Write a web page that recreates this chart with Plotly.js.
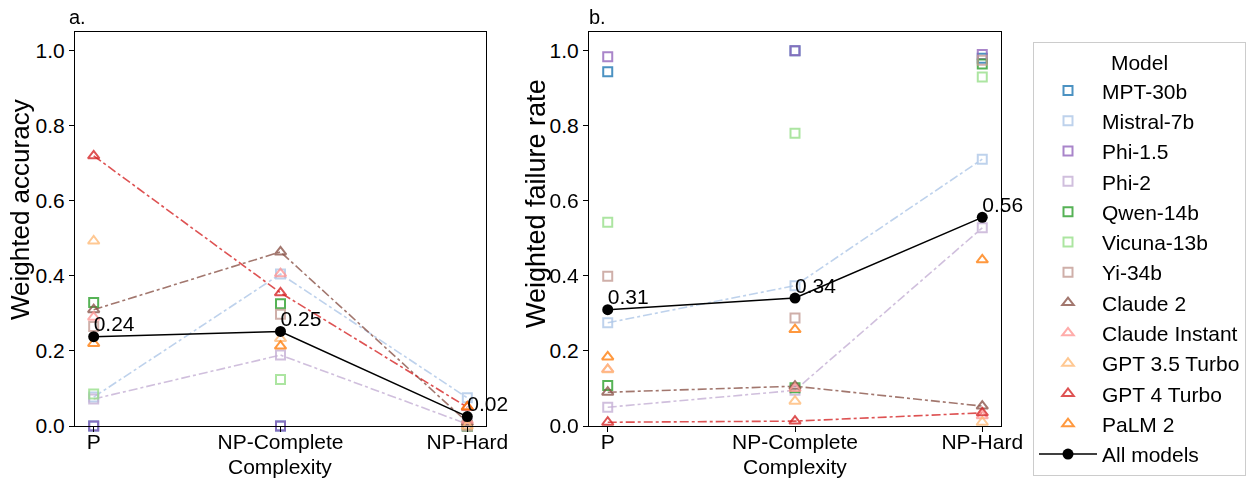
<!DOCTYPE html>
<html>
<head>
<meta charset="utf-8">
<script src="https://cdn.plot.ly/plotly-3.0.1.min.js"></script>
<style>html,body{margin:0;padding:0;background:#fff;}#chart{width:1248px;height:480px;}</style>
</head>
<body>
<div id="chart"></div>
<script>
// Complexity classes (x categories)
const categories = ['P', 'NP-Complete', 'NP-Hard'];

// Model names, colours and marker groups
const models = ['MPT-30b', 'Mistral-7b', 'Phi-1.5', 'Phi-2', 'Qwen-14b', 'Vicuna-13b', 'Yi-34b',
                'Claude 2', 'Claude Instant', 'GPT 3.5 Turbo', 'GPT 4 Turbo', 'PaLM 2'];
const colors = ['#1f77b4', '#aec7e8', '#9467bd', '#c5b0d5', '#2ca02c', '#98df8a', '#c49c94',
                '#8c564b', '#ff9896', '#ffbb78', '#d62728', '#ff7f0e'];
const openModels = ['MPT-30b', 'Mistral-7b', 'Phi-1.5', 'Phi-2', 'Qwen-14b', 'Vicuna-13b', 'Yi-34b'];
const linedModels = ['Mistral-7b', 'Phi-2', 'Claude 2', 'GPT 4 Turbo'];

// Panel a: weighted accuracy per model (P, NP-Complete, NP-Hard)
const accMPT30b       = [0.000, 0.000, 0.000];
const accMistral7b    = [0.077, 0.405, 0.075];
const accPhi15        = [0.000, 0.000, 0.000];
const accPhi2         = [0.072, 0.189, 0.005];
const accQwen14b      = [0.329, 0.326, 0.000];
const accVicuna13b    = [0.085, 0.124, 0.000];
const accYi34b        = [0.265, 0.298, 0.000];
const accClaude2      = [0.310, 0.464, 0.010];
const accClaudeInst   = [0.290, 0.406, 0.015];
const accGPT35        = [0.493, 0.233, 0.000];
const accGPT4         = [0.720, 0.355, 0.050];
const accPaLM2        = [0.220, 0.213, 0.051];
const accAll          = [0.238, 0.252, 0.025];
const accAllLabels    = ['0.24', '0.25', '0.02'];

// Panel b: weighted failure rate per model (P, NP-Complete, NP-Hard)
const failMPT30b      = [0.944, 1.000, 0.980];
const failMistral7b   = [0.275, 0.374, 0.711];
const failPhi15       = [0.984, 1.000, 0.990];
const failPhi2        = [0.050, 0.095, 0.528];
const failQwen14b     = [0.108, 0.102, 0.965];
const failVicuna13b   = [0.543, 0.780, 0.930];
const failYi34b       = [0.399, 0.288, 0.975];
const failClaude2     = [0.090, 0.106, 0.053];
const failClaudeInst  = [0.151, 0.100, 0.027];
const failGPT35       = [0.150, 0.066, 0.010];
const failGPT4        = [0.010, 0.013, 0.035];
const failPaLM2       = [0.184, 0.257, 0.443];
const failAll         = [0.310, 0.341, 0.556];
const failAllLabels   = ['0.31', '0.34', '0.56'];

// Axis / panel texts
const xTitle = 'Complexity';
const yTitleA = 'Weighted accuracy';
const yTitleB = 'Weighted failure rate';
const panelLabels = ['a.', 'b.'];
const legendTitle = 'Model';

const accSeries = [accMPT30b, accMistral7b, accPhi15, accPhi2, accQwen14b, accVicuna13b, accYi34b,
                   accClaude2, accClaudeInst, accGPT35, accGPT4, accPaLM2];
const failSeries = [failMPT30b, failMistral7b, failPhi15, failPhi2, failQwen14b, failVicuna13b, failYi34b,
                    failClaude2, failClaudeInst, failGPT35, failGPT4, failPaLM2];

const xIdx = categories.map((c, i) => i);
const FONT = 'Liberation Sans, Arial, sans-serif';
const traces = [];

function addPanel(series, all, labels, xa, ya, legend) {
  models.forEach((m, i) => {
    if (linedModels.includes(m)) {
      traces.push({x: xIdx, y: series[i], xaxis: xa, yaxis: ya, mode: 'lines', showlegend: false,
        hoverinfo: 'skip', opacity: 0.8, line: {color: colors[i], width: 1.6, dash: 'dashdot'}});
    }
  });
  models.forEach((m, i) => {
    const isOpen = openModels.includes(m);
    traces.push({x: xIdx, y: series[i], xaxis: xa, yaxis: ya, mode: 'markers', name: m,
      showlegend: legend, legendgroup: m, opacity: 0.8, cliponaxis: false,
      marker: {symbol: isOpen ? 'square-open' : 'triangle-up-open', size: isOpen ? 9 : 10,
               color: colors[i], line: {color: colors[i], width: 2}}});
  });
  traces.push({x: xIdx, y: all, xaxis: xa, yaxis: ya, mode: 'lines+markers', name: 'All models',
    showlegend: legend, legendgroup: 'All models', cliponaxis: false,
    line: {color: 'black', width: 1.6}, marker: {color: 'black', size: 11, symbol: 'circle'}});
  traces.push({x: xIdx, y: all, xaxis: xa, yaxis: ya, mode: 'text', text: labels, showlegend: false,
    cliponaxis: false, textposition: 'top right',
    textfont: {family: FONT, size: 21, color: 'black'}, hoverinfo: 'skip'});
}

addPanel(accSeries, accAll, accAllLabels, 'x', 'y', false);
addPanel(failSeries, failAll, failAllLabels, 'x2', 'y2', true);

function xAxis(domain, anchor) {
  return {domain: domain, range: [-0.1, 2.1], anchor: anchor, tickvals: xIdx, ticktext: categories,
    showgrid: false, zeroline: false, showline: true, mirror: true, linecolor: 'black', linewidth: 1,
    ticks: 'outside', ticklen: 5, tickcolor: 'black', ticklabelstandoff: -8,
    tickfont: {family: FONT, size: 21, color: 'black'}};
}
function yAxis(domain, anchor) {
  return {domain: domain, range: [0, 1.05], anchor: anchor, dtick: 0.2, tickformat: '.1f',
    showgrid: false, zeroline: false, showline: true, mirror: true, linecolor: 'black', linewidth: 1,
    ticks: 'outside', ticklen: 5, tickcolor: 'black', tickfont: {family: FONT, size: 21, color: 'black'}};
}

function txt(text, x, y, opts) {
  return Object.assign({text: text, xref: 'paper', yref: 'paper', x: x / 1248, y: 1 - y / 480,
    xanchor: 'center', yanchor: 'middle', showarrow: false,
    font: {family: FONT, size: 21, color: 'black'}}, opts || {});
}

const layout = {
  width: 1248, height: 480,
  margin: {l: 0, r: 0, t: 0, b: 0},
  paper_bgcolor: 'white', plot_bgcolor: 'white',
  font: {family: FONT, size: 21, color: 'black'},
  xaxis: xAxis([75 / 1248, 486 / 1248], 'y'),
  yaxis: yAxis([54 / 480, 448 / 480], 'x'),
  xaxis2: xAxis([589 / 1248, 1001 / 1248], 'y2'),
  yaxis2: yAxis([54 / 480, 448 / 480], 'x2'),
  legend: {x: 1033 / 1248, y: 438 / 480, xanchor: 'left', yanchor: 'top',
    bordercolor: '#cccccc', borderwidth: 1, bgcolor: 'white',
    font: {family: FONT, size: 21, color: 'black'}, itemwidth: 58, tracegroupgap: 0,
    title: {text: legendTitle, side: 'top center', font: {family: FONT, size: 21, color: 'black'}}},
  showlegend: true,
  annotations: [
    txt(panelLabels[0], 67, 17, {xanchor: 'left', font: {family: FONT, size: 20, color: 'black'}}),
    txt(panelLabels[1], 587, 17, {xanchor: 'left', font: {family: FONT, size: 20, color: 'black'}}),
    txt(xTitle, 280, 466),
    txt(xTitle, 795, 466),
    txt(yTitleA, 20, 210, {textangle: -90, font: {family: FONT, size: 26, color: 'black'}}),
    txt(yTitleB, 536, 204, {textangle: -90, font: {family: FONT, size: 27, color: 'black'}})
  ]
};

Plotly.newPlot('chart', traces, layout, {displayModeBar: false, staticPlot: true});
</script>
</body>
</html>
